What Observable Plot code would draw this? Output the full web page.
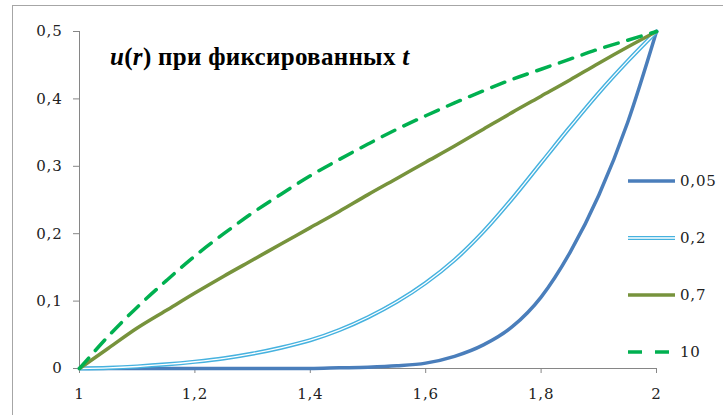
<!DOCTYPE html>
<html>
<head>
<meta charset="utf-8">
<script src="https://cdn.jsdelivr.net/npm/d3@7"></script>
<script src="https://cdn.jsdelivr.net/npm/@observablehq/plot@0.6"></script>
<style>
  html, body { margin: 0; padding: 0; background: #fff; overflow: hidden; }
  #wrap { position: relative; width: 723px; height: 415px; overflow: hidden; }
  #frame { position: absolute; left: 12px; top: 5px; width: 800px; height: 500px; border: 1px solid #a6a6a6; box-sizing: border-box; }
  #chart { position: absolute; left: 0; top: 0; width: 723px; height: 415px; }
</style>
</head>
<body>
<div id="wrap"><div id="frame"></div><div id="chart"></div></div>
<script>
// radius values
const r = [1, 1.05, 1.1, 1.15, 1.2, 1.25, 1.3, 1.35, 1.4, 1.45, 1.5, 1.55, 1.6, 1.65, 1.7, 1.75, 1.8, 1.85, 1.9, 1.95, 2];
// u(r) for fixed t
const u_t005 = [0, 0, 0, 0, 0, 0, 0, 0, 0, 0.001, 0.002, 0.004, 0.008, 0.018, 0.035, 0.062, 0.106, 0.172, 0.257, 0.365, 0.5];
const u_t02  = [0, 0.001, 0.003, 0.006, 0.01, 0.015, 0.022, 0.031, 0.042, 0.057, 0.076, 0.099, 0.127, 0.161, 0.203, 0.252, 0.305, 0.358, 0.409, 0.456, 0.5];
const u_t07  = [0, 0.03, 0.06, 0.086, 0.112, 0.137, 0.161, 0.185, 0.209, 0.233, 0.258, 0.282, 0.306, 0.33, 0.355, 0.38, 0.404, 0.428, 0.453, 0.477, 0.5];
const u_t10  = [0, 0.048, 0.091, 0.13, 0.167, 0.2, 0.231, 0.259, 0.286, 0.31, 0.333, 0.355, 0.375, 0.394, 0.412, 0.429, 0.444, 0.459, 0.474, 0.487, 0.5];
const seriesNames = ["0,05", "0,2", "0,7", "10"];
const xTicks = [1, 1.2, 1.4, 1.6, 1.8, 2];
const yTicks = [0, 0.1, 0.2, 0.3, 0.4, 0.5];

const allSeries = [u_t005, u_t02, u_t07, u_t10];
const rows = [];
allSeries.forEach((vals, i) => vals.forEach((u, j) => rows.push({t: seriesNames[i], r: r[j], u})));
const of = name => rows.filter(d => d.t === name);

const fmt = d => String(d).replace(".", ",");
const axisColor = "#868686";
const tickFont = "'DejaVu Serif', serif";

const plot = Plot.plot({
  width: 723,
  height: 415,
  marginLeft: 79,
  marginRight: 67,
  marginTop: 31,
  marginBottom: 47,
  x: {domain: [1, 2]},
  y: {domain: [0, 0.5]},
  style: {fontFamily: tickFont, fontSize: "15px", color: "#222", background: "transparent", overflow: "visible"},
  marks: [
    Plot.ruleX([1], {y1: 0, y2: 0.5, stroke: axisColor, strokeWidth: 1}),
    Plot.ruleY([0], {x1: 1, x2: 2, stroke: axisColor, strokeWidth: 1}),
    Plot.axisY({ticks: yTicks, tickFormat: fmt, tickSize: 6, tickPadding: 11, stroke: axisColor, label: null}),
    Plot.axisX({ticks: xTicks, tickFormat: fmt, tickSize: 5, tickPadding: 15, stroke: axisColor, label: null}),
    Plot.line(of("0,05"), {x: "r", y: "u", stroke: "#4a7ebb", strokeWidth: 3.5, curve: "monotone-x"}),
    Plot.line(of("0,2"), {x: "r", y: "u", stroke: "#46b2df", strokeWidth: 4.2, curve: "catmull-rom"}),
    Plot.line(of("0,2"), {x: "r", y: "u", stroke: "#ffffff", strokeWidth: 1.3, curve: "catmull-rom"}),
    Plot.line(of("0,7"), {x: "r", y: "u", stroke: "#77933c", strokeWidth: 3.5, curve: "catmull-rom"}),
    Plot.line(of("10"), {x: "r", y: "u", stroke: "#00b050", strokeWidth: 3.5, strokeDasharray: "14,10", curve: "catmull-rom"})
  ]
});

document.getElementById("chart").appendChild(plot);
const svg = d3.select(plot);
svg.selectAll("g[aria-label='y-axis tick label'] text, g[aria-label='x-axis tick label'] text")
  .style("letter-spacing", "0.8px");

// title
const title = svg.append("text")
  .attr("x", 110).attr("y", 65)
  .attr("text-anchor", "start")
  .style("font-family", "'Liberation Serif', serif")
  .style("font-size", "25px").style("font-weight", "bold")
  .style("letter-spacing", "0.3px").attr("fill", "#000");
title.append("tspan").style("font-style", "italic").text("u");
title.append("tspan").text("(");
title.append("tspan").style("font-style", "italic").text("r");
title.append("tspan").text(") при фиксированных ");
title.append("tspan").style("font-style", "italic").text("t");

// legend
const legendStyles = [
  {stroke: "#4a7ebb", w: 3.5, dash: null, inner: false},
  {stroke: "#46b2df", w: 4.2, dash: null, inner: true},
  {stroke: "#77933c", w: 3.5, dash: null, inner: false},
  {stroke: "#00b050", w: 3.5, dash: "14,13", inner: false}
];
const legendY = [181, 238, 295, 352];
const lg = svg.append("g");
seriesNames.forEach((name, i) => {
  const s = legendStyles[i];
  const y = legendY[i];
  const ln = lg.append("line").attr("x1", 628).attr("x2", 675).attr("y1", y).attr("y2", y)
    .attr("stroke", s.stroke).attr("stroke-width", s.w);
  if (s.dash) ln.attr("stroke-dasharray", s.dash);
  if (s.inner) lg.append("line").attr("x1", 628).attr("x2", 675).attr("y1", y).attr("y2", y)
    .attr("stroke", "#fff").attr("stroke-width", 1.3);
  lg.append("text").attr("x", 680).attr("y", y).attr("dy", "0.35em")
    .attr("text-anchor", "start")
    .attr("font-family", tickFont).attr("font-size", 15).attr("fill", "#222")
    .style("letter-spacing", "0.8px").text(name);
});
</script>
</body>
</html>
